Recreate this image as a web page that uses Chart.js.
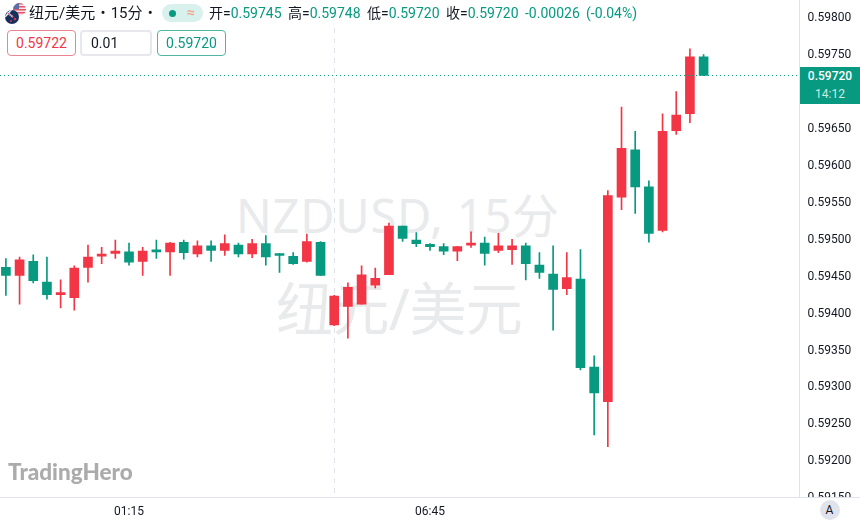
<!DOCTYPE html>
<html><head><meta charset="utf-8">
<style>
html,body{margin:0;padding:0;background:#fff;width:860px;height:522px;overflow:hidden}
#wrap{position:relative;width:860px;height:522px;overflow:hidden;font-family:Roboto,"Noto Sans CJK SC",sans-serif;color:#131722}
canvas{position:absolute;left:0;top:0;z-index:2}
.abs{position:absolute;white-space:nowrap;z-index:3}
.wm{position:absolute;z-index:1;color:#e9eaec;white-space:nowrap;font-family:"Noto Sans","Noto Sans CJK SC",sans-serif}
.v{color:#089981}
.lab{font-size:14px;line-height:16px;top:5px}
.btn{box-sizing:border-box;height:26px;top:30px;border-radius:4px;background:#fff;font-size:14px;line-height:24px;text-align:center;border:1px solid}
</style></head>
<body><div id="wrap">
<div class="wm" style="left:236px;top:182px;font-size:47px;line-height:66px;letter-spacing:.8px" id="wm1"></div>
<div class="wm" style="left:276px;top:268px;font-size:57px;line-height:80px;letter-spacing:-.6px" id="wm2"></div>
<canvas id="c" width="860" height="522"></canvas>

<svg class="abs" style="left:4px;top:3px" width="24" height="24" viewBox="0 0 24 24">
<defs><clipPath id="us"><circle cx="15.500" cy="6.500" r="6.500"/></clipPath><clipPath id="nz"><circle cx="8" cy="14" r="7"/></clipPath></defs>
<g clip-path="url(#us)"><rect x="8" width="16" height="16" fill="#f9e3e5"/><rect x="8" y="0" width="16" height="1.5" fill="#e25566"/><rect x="8" y="3" width="16" height="1.500" fill="#e25566"/><rect x="8" y="6" width="16" height="1.5" fill="#e25566"/><rect x="8" y="9" width="16" height="1.5" fill="#e25566"/><rect x="8" y="0" width="7" height="6" fill="#5a6ea8"/></g>
<g clip-path="url(#nz)"><rect width="18" height="24" fill="#15305f"/><path d="M0 7 L9 14 M8 6 L1 14" stroke="#e8eaf0" stroke-width="1.6"/><path d="M0 7 L9 14" stroke="#d9344a" stroke-width=".8"/><circle cx="11" cy="16" r="1.3" fill="#d9344a"/><circle cx="7" cy="18" r="1" fill="#d9344a"/></g>
</svg>
<div class="abs" id="ttl" style="left:29px;top:3px;font-size:15px;line-height:20px;word-spacing:1.500px"></div>
<div class="abs" style="left:162px;top:4px;width:41px;height:18px;border-radius:9px;background:#d8f1ec"></div>
<div class="abs" style="left:168.500px;top:9.500px;width:7px;height:7px;border-radius:50%;background:#089981"></div>
<div class="abs" style="left:187px;top:3px;font-size:14px;line-height:19px;font-weight:700;color:#f4a58a">≈</div>
<div class="abs lab" style="left:209px">开=<span class="v" id="o"></span></div>
<div class="abs lab" style="left:288px">高=<span class="v" id="h"></span></div>
<div class="abs lab" style="left:367px">低=<span class="v" id="l"></span></div>
<div class="abs lab" style="left:446px">收=<span class="v" id="cl"></span></div>
<div class="abs lab v" style="left:525px" id="chg"></div>
<div class="abs lab v" style="left:586px" id="pct"></div>
<div class="abs btn" id="sell" style="left:7px;width:69px;color:#f23645;border-color:#ea8593"></div>
<div class="abs btn" id="qty" style="left:80px;width:72px;text-align:left;padding-left:9px;border:2px solid #e6e8ee;line-height:22px"></div>
<div class="abs btn" id="buy" style="left:157px;width:69px;color:#089981;border-color:#4fb6a3"></div>

<div class="abs" style="left:8px;top:458px;font-family:Lato,sans-serif;font-weight:900;font-size:22.500px;line-height:28px;color:#ababab" id="logo"></div>

<div class="abs" style="left:800px;top:66.500px;width:60px;height:37px;background:#089981;text-align:center;font-size:12px;color:#fff">
 <div id="pl" style="font-weight:500;line-height:17px;margin-top:1px"></div>
 <div id="cd" style="line-height:19px;color:#c9ebe4"></div>
</div>
<div class="abs" style="left:800px;top:497px;width:60px;height:25px;background:#fff;border-top:1px solid #e0e3eb;box-sizing:border-box"></div>
<div class="abs" style="left:819.500px;top:500px;width:20px;height:20px;border-radius:50%;background:#e0e3eb;text-align:center;font-size:12px;line-height:20px">A</div>
</div>
<script src="https://cdn.jsdelivr.net/npm/chart.js@4"></script>
<script>
const categories = ["23:00","23:15","23:30","23:45","00:00","00:15","00:30","00:45","01:00","01:15","01:30","01:45","02:00","02:15","02:30","02:45","03:00","03:15","03:30","03:45","04:00","04:15","04:30","04:45","05:00","05:15","05:30","05:45","06:00","06:15","06:30","06:45","07:00","07:15","07:30","07:45","08:00","08:15","08:30","08:45","09:00","09:15","09:30","09:45","10:00","10:15","10:30","10:45","11:00","11:15","11:30","11:45"];
const opens  = [.59460,.59449,.59468,.59440,.59423,.59419,.59460,.59475,.59479,.59481,.59468,.59483,.59481,.59494,.59478,.59489,.59483,.59490,.59478,.59492,.59477,.59475,.59468,.59494,.59382,.59407,.59410,.59436,.59450,.59516,.59497,.59491,.59488,.59482,.59490,.59493,.59483,.59484,.59489,.59463,.59451,.59431,.59444,.59325,.59278,.59555,.59619,.59569,.59510,.59645,.59668,.59745];
const highs  = [.59472,.59474,.59477,.59474,.59443,.59462,.59490,.59487,.59497,.59493,.59487,.59497,.59494,.59497,.59496,.59496,.59504,.59493,.59498,.59503,.59479,.59480,.59505,.59495,.59422,.59439,.59462,.59459,.59520,.59516,.59507,.59492,.59492,.59488,.59508,.59501,.59506,.59498,.59493,.59480,.59489,.59480,.59484,.59340,.59564,.59677,.59644,.59577,.59668,.59698,.59756,.59748];
const lows   = [.59422,.59410,.59439,.59417,.59405,.59402,.59440,.59465,.59472,.59463,.59449,.59472,.59449,.59471,.59474,.59468,.59476,.59474,.59473,.59463,.59453,.59464,.59467,.59449,.59381,.59364,.59410,.59432,.59450,.59495,.59488,.59483,.59477,.59469,.59487,.59463,.59480,.59464,.59443,.59445,.59375,.59423,.59321,.59233,.59217,.59538,.59533,.59494,.59508,.59640,.59656,.59720];
const closes = [.59449,.59470,.59442,.59423,.59424,.59459,.59474,.59478,.59482,.59467,.59482,.59481,.59493,.59480,.59489,.59483,.59492,.59478,.59492,.59474,.59476,.59465,.59495,.59449,.59421,.59433,.59450,.59445,.59516,.59499,.59492,.59488,.59482,.59488,.59492,.59479,.59489,.59489,.59465,.59453,.59430,.59446,.59324,.59290,.59557,.59621,.59569,.59506,.59644,.59666,.59745,.59720];
const priceTicks = [.5915,.592,.5925,.593,.5935,.594,.5945,.595,.5955,.596,.5965,.597,.5975,.598];
const timeTicks = ["01:15","06:45"];
const lastPrice = .5972;
const crossTime = "05:00";
const UP = "#f23645", DOWN = "#089981";

const set=(id,t)=>document.getElementById(id).textContent=t;
set("wm1","NZDUSD, 15分"); set("wm2","纽元/美元"); set("ttl","纽元/美元 • 15分 •");
set("o","0.59745"); set("h","0.59748"); set("l","0.59720"); set("cl","0.59720");
set("chg","-0.00026"); set("pct","(-0.04%)");
set("sell","0.59722"); set("qty","0.01"); set("buy","0.59720");
set("logo","TradingHero"); set("pl","0.59720"); set("cd","14:12");

const colors = opens.map((o,i)=>closes[i]>=o?UP:DOWN);
const refLines = {
  id:"refLines",
  beforeDatasetsDraw(ch){
    const {ctx,chartArea:a,scales:{x,y}}=ch;
    ctx.save();
    const cx=Math.round(x.getPixelForValue(categories.indexOf(crossTime)))+.5;
    ctx.strokeStyle="#e0e3eb";ctx.lineWidth=1;ctx.setLineDash([5,5]);
    ctx.beginPath();ctx.moveTo(cx,28);ctx.lineTo(cx,a.bottom);ctx.stroke();
    ctx.restore();
  },
  afterDatasetsDraw(ch){
    const {ctx,chartArea:a,scales:{y}}=ch;
    ctx.save();
    const py=Math.round(y.getPixelForValue(lastPrice))+.5;
    ctx.strokeStyle=DOWN;ctx.lineWidth=1;ctx.setLineDash([1,3]);
    ctx.beginPath();ctx.moveTo(a.left,py);ctx.lineTo(a.right,py);ctx.stroke();
    ctx.restore();
  }
};
new Chart(document.getElementById("c"),{
  type:"bar",
  data:{datasets:[
    {label:"wick",data:categories.map((t,i)=>({x:i,y:[lows[i],highs[i]]})),backgroundColor:colors,barThickness:1,grouped:false,order:2},
    {label:"body",data:categories.map((t,i)=>({x:i,y:[opens[i],closes[i]]})),backgroundColor:colors,barThickness:9,minBarLength:2,grouped:false,order:1}
  ]},
  options:{
    responsive:false,animation:false,
    layout:{padding:0,autoPadding:false},
    plugins:{legend:{display:false},tooltip:{enabled:false},title:{display:false}},
    scales:{
      x:{type:"linear",offset:false,min:-0.431,max:58.01,
        grid:{display:false,drawTicks:false,offset:false},
        border:{display:true,color:"#e0e3eb"},
        afterBuildTicks(s){s.ticks=timeTicks.map(t=>({value:categories.indexOf(t)}));},
        afterFit(s){s.height=25;},
        ticks:{autoSkip:false,maxRotation:0,padding:8,color:"#131722",font:{family:"Roboto",size:12},
          callback:v=>categories[v]}
      },
      y:{type:"linear",position:"right",min:.59149,max:.59822,
        grid:{display:false,drawTicks:false},
        border:{display:true,color:"#e0e3eb"},
        afterBuildTicks(s){s.ticks=priceTicks.map(v=>({value:v}));},
        afterFit(s){s.width=60.5;s.paddingTop=0;s.paddingBottom=0;},
        ticks:{autoSkip:false,padding:8,labelOffset:2,color:"#131722",font:{family:"Roboto",size:12},
          callback:v=>v.toFixed(5)}
      }
    }
  },
  plugins:[refLines]
});
</script>
</body></html>
